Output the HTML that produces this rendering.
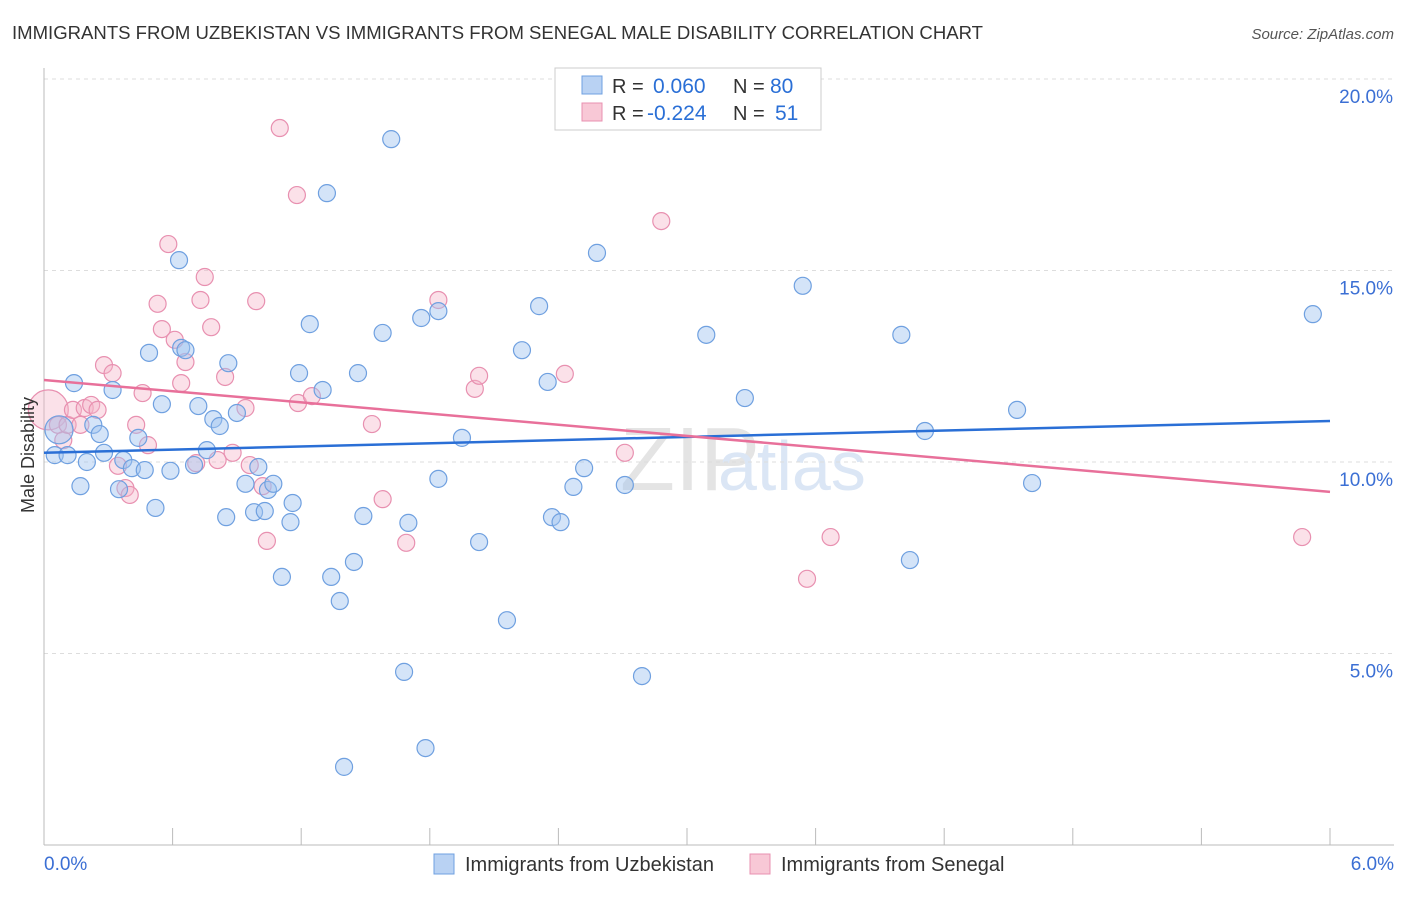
<!DOCTYPE html>
<html><head><meta charset="utf-8"><style>
body{margin:0;background:#fff;font-family:"Liberation Sans",sans-serif;}
svg text{font-family:"Liberation Sans",sans-serif;}
</style></head><body>
<svg id="chart" width="1406" height="892">
<text x="12" y="39" font-size="18.5" fill="#333" textLength="971" lengthAdjust="spacingAndGlyphs">IMMIGRANTS FROM UZBEKISTAN VS IMMIGRANTS FROM SENEGAL MALE DISABILITY CORRELATION CHART</text>
<text x="1394" y="39" font-size="15" fill="#555" font-style="italic" text-anchor="end">Source: ZipAtlas.com</text>
<text x="620" y="490" font-size="90" fill="#e4e4e4" font-family="Liberation Serif">ZIP</text>
<text x="718" y="490" font-size="70" fill="#dbe6f5">atlas</text>
<g id="grid"></g>
<g id="axes"></g>
<g id="pts"></g>
<g id="lines"></g>
<text transform="translate(34,455) rotate(-90)" font-size="18" fill="#333" text-anchor="middle">Male Disability</text>
<g>
<rect x="555" y="68" width="266" height="62" fill="#fff" stroke="#ccc"/>
<rect x="582" y="76" width="20" height="18" fill="#b9d2f3" stroke="#6fa0e0"/>
<rect x="582" y="103" width="20" height="18" fill="#f8c8d6" stroke="#e890b0"/>
<text x="612" y="93" font-size="20" fill="#333">R =</text>
<text x="653" y="93" font-size="21" fill="#2a6fd6">0.060</text>
<text x="733" y="93" font-size="20" fill="#333">N =</text>
<text x="770" y="93" font-size="21" fill="#2a6fd6">80</text>
<text x="612" y="120" font-size="20" fill="#333">R =</text>
<text x="647" y="120" font-size="21" fill="#2a6fd6">-0.224</text>
<text x="733" y="120" font-size="20" fill="#333">N =</text>
<text x="775" y="120" font-size="21" fill="#2a6fd6">51</text>
</g>
<g>
<rect x="434" y="854" width="20" height="20" fill="#b9d2f3" stroke="#6fa0e0"/>
<text x="465" y="871" font-size="20" fill="#333">Immigrants from Uzbekistan</text>
<rect x="750" y="854" width="20" height="20" fill="#f8c8d6" stroke="#e890b0"/>
<text x="781" y="871" font-size="20" fill="#333">Immigrants from Senegal</text>
</g>
</svg>
<script>
const blueX=[0.05,0.07,0.11,0.14,0.17,0.20,0.23,0.26,0.28,0.32,0.35,0.37,0.41,0.44,0.47,0.49,0.52,0.55,0.59,0.63,0.64,0.66,0.70,0.72,0.76,0.79,0.82,0.85,0.86,0.90,0.94,0.98,1.00,1.03,1.045,1.07,1.11,1.15,1.16,1.19,1.24,1.30,1.32,1.34,1.38,1.40,1.446,1.465,1.49,1.58,1.62,1.68,1.70,1.76,1.78,1.84,1.84,1.95,2.03,2.16,2.23,2.31,2.35,2.37,2.41,2.47,2.52,2.58,2.71,2.79,3.09,3.27,3.54,4.00,4.04,4.11,4.54,4.61,5.92];
const blueY=[10.18,10.84,10.18,12.06,9.37,10.00,10.97,10.73,10.24,11.88,9.29,10.05,9.84,10.63,9.79,12.85,8.80,11.51,9.77,15.27,12.98,12.92,9.92,11.46,10.31,11.12,10.94,8.56,12.58,11.28,9.43,8.69,9.87,8.72,9.27,9.43,7.00,8.43,8.93,12.32,13.60,11.88,17.02,7.00,6.37,2.04,7.39,12.32,8.59,13.37,18.43,4.52,8.41,13.76,2.53,13.94,9.56,10.63,7.91,5.87,12.92,14.07,12.09,8.56,8.43,9.35,9.84,15.46,9.40,4.41,13.32,11.67,14.60,13.32,7.44,10.81,11.36,9.45,13.86];
const pinkX=[0.02,0.065,0.09,0.11,0.135,0.17,0.19,0.22,0.25,0.28,0.32,0.345,0.38,0.40,0.43,0.46,0.485,0.53,0.55,0.58,0.61,0.64,0.66,0.71,0.73,0.75,0.78,0.81,0.845,0.88,0.94,0.96,0.99,1.02,1.04,1.10,1.18,1.185,1.25,1.53,1.58,1.69,1.84,2.01,2.03,2.43,2.71,2.88,3.56,3.67,5.87];
const pinkY=[11.36,10.97,10.57,10.97,11.36,10.97,11.41,11.49,11.36,12.53,12.32,9.90,9.32,9.14,10.97,11.80,10.44,14.13,13.47,15.69,13.19,12.06,12.61,9.97,14.23,14.83,13.52,10.05,12.22,10.24,11.41,9.92,14.20,9.37,7.94,18.72,16.97,11.54,11.72,10.99,9.03,7.89,14.23,11.91,12.25,12.30,10.24,16.29,6.95,8.04,8.04];
const blueTrend=[10.24,11.07];
const pinkTrend=[12.14,9.22];
const yTicks=[5,10,15,20];
const xTickLabels=["0.0%","6.0%"];
const NS="http://www.w3.org/2000/svg";
const sx=v=>44+v/6*1286;
const sy=v=>845-v/5*191.5;
function mk(tag,attrs,parent){const e=document.createElementNS(NS,tag);for(const k in attrs)e.setAttribute(k,attrs[k]);document.getElementById(parent).appendChild(e);return e;}
yTicks.forEach(t=>{
 const l=mk('line',{x1:44,x2:1394,y1:sy(t),y2:sy(t),stroke:'#ddd','stroke-dasharray':'4,4'},'grid');
 
 
 const tx=mk('text',{x:1393,y:sy(t)+24,'font-size':19,fill:'#3b6fd4','text-anchor':'end'},'axes');
 tx.textContent=t.toFixed(1)+'%';
 
 
});
const ax=mk('line',{x1:44,x2:1394,y1:845,y2:845,stroke:'#bbb'},'axes');


const ay=mk('line',{x1:44,x2:44,y1:68,y2:845,stroke:'#bbb'},'axes');


for(let i=0;i<=10;i++){
 const t=mk('line',{x1:sx(i*0.6),x2:sx(i*0.6),y1:828,y2:845,stroke:'#bbb'},'axes');
 
 
}
const xl0=mk('text',{x:44,y:870,'font-size':19,fill:'#3b6fd4'},'axes');xl0.textContent=xTickLabels[0];


const xl1=mk('text',{x:1394,y:870,'font-size':19,fill:'#3b6fd4','text-anchor':'end'},'axes');xl1.textContent=xTickLabels[1];


pinkX.forEach((x,i)=>{
 const c=mk('circle',{cx:sx(x),cy:sy(pinkY[i]),r:i===0?20:8.5,fill:'rgba(245,180,200,0.4)',stroke:'#e890b0','stroke-width':1.2},'pts');
 
 
});
blueX.forEach((x,i)=>{
 const c=mk('circle',{cx:sx(x),cy:sy(blueY[i]),r:i===1?14:8.5,fill:'rgba(160,195,240,0.45)',stroke:'#6fa0e0','stroke-width':1.2},'pts');
 
 
});
const bl=mk('line',{x1:sx(0),x2:sx(6),y1:sy(blueTrend[0]),y2:sy(blueTrend[1]),stroke:'#2a6fd6','stroke-width':2.5},'lines');


const pl=mk('line',{x1:sx(0),x2:sx(6),y1:sy(pinkTrend[0]),y2:sy(pinkTrend[1]),stroke:'#e8709a','stroke-width':2.5},'lines');


</script>
</body></html>
